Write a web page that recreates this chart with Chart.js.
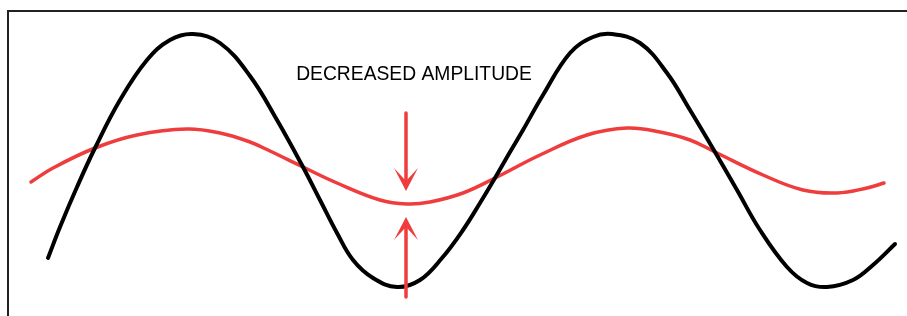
<!DOCTYPE html>
<html lang="en">
<head>
<meta charset="UTF-8" />
<title>Decreased amplitude</title>
<script src="https://cdn.jsdelivr.net/npm/chart.js"></script>
<style>
  html, body { margin: 0; padding: 0; background: #fff; }
  .wrap { position: relative; width: 907px; height: 316px; }
  .frame {
    position: absolute; left: 7px; top: 10px; right: 0; bottom: 0;
    border-left: 2px solid #222; border-top: 2px solid #222;
    pointer-events: none;
  }
</style>
</head>
<body>
<div class="wrap">
  <canvas id="wave"></canvas>
  <div class="frame"></div>
</div>

<script>
  // original wave (black): time vs displacement
  const origX = [48, 60, 77, 95, 120, 147, 170, 193, 220, 250, 277, 303, 320, 337, 353, 373, 397, 420, 442, 463, 480, 495, 510, 523, 543, 570, 593, 612, 640, 667, 690, 715, 737, 760, 787, 807, 827, 853, 873, 895];
  const origY = [-98, -67, -27, 12, 60, 100, 120, 126, 117, 84, 40, -7, -40, -73, -100, -118, -127, -120, -98, -70, -43, -18, 8, 30, 65, 107, 123, 126, 117, 87, 50, 8, -30, -70, -107, -123, -127, -120, -105, -84];

  // damped wave (red)
  const dampX = [31, 53, 95, 137, 187, 220, 250, 270, 303, 337, 380, 407, 430, 463, 495, 540, 587, 627, 660, 690, 715, 763, 803, 837, 867, 884];
  const dampY = [-22, -8, 12, 25, 31, 27, 18, 9, -7, -23, -40, -44, -42, -33, -18, 5, 25, 32, 28, 20, 8, -15, -30, -33, -28, -23];

  // arrows pointing at the red trough: [x, from, to(tip)]
  const arrowDown = [406, 47, -31];
  const arrowUp = [406, -137, -57];
  const label = 'DECREASED AMPLITUDE';
  const labelPos = [414, 80];

  const RED = '#ef3d3d';

  const toPts = (xs, ys) => xs.map((x, i) => ({ x: x, y: ys[i] }));

  const annotate = {
    id: 'annotate',
    afterDatasetsDraw(chart) {
      const ctx = chart.ctx;
      const sx = chart.scales.x, sy = chart.scales.y;

      function arrow(a) {
        const x = sx.getPixelForValue(a[0]);
        const y0 = sy.getPixelForValue(a[1]);
        const y1 = sy.getPixelForValue(a[2]);
        const dir = y1 > y0 ? 1 : -1;
        ctx.save();
        ctx.strokeStyle = RED;
        ctx.fillStyle = RED;
        ctx.lineWidth = 3.5;
        ctx.lineCap = 'round';
        ctx.beginPath();
        ctx.moveTo(x, y0);
        ctx.lineTo(x, y1 - dir * 10);
        ctx.stroke();
        // head
        ctx.beginPath();
        ctx.moveTo(x, y1);
        ctx.lineTo(x - 12, y1 - dir * 23);
        ctx.lineTo(x, y1 - dir * 10);
        ctx.lineTo(x + 12, y1 - dir * 23);
        ctx.closePath();
        ctx.fill();
        ctx.restore();
      }
      arrow(arrowDown);
      arrow(arrowUp);

      ctx.save();
      ctx.fillStyle = '#000';
      ctx.font = '19.3px "Liberation Sans", Arial, sans-serif';
      ctx.textAlign = 'center';
      ctx.textBaseline = 'alphabetic';
      ctx.fillText(label, sx.getPixelForValue(labelPos[0]), sy.getPixelForValue(labelPos[1]));
      ctx.restore();
    }
  };

  new Chart(document.getElementById('wave'), {
    type: 'line',
    data: {
      datasets: [
        {
          label: 'original',
          data: toPts(origX, origY),
          borderColor: '#000',
          borderWidth: 4,
          pointRadius: 0,
          tension: 0.4,
          borderCapStyle: 'round',
          borderJoinStyle: 'round'
        },
        {
          label: 'damped',
          data: toPts(dampX, dampY),
          borderColor: RED,
          borderWidth: 3.5,
          pointRadius: 0,
          tension: 0.4,
          borderCapStyle: 'round',
          borderJoinStyle: 'round'
        }
      ]
    },
    options: {
      responsive: true,
      maintainAspectRatio: false,
      animation: false,
      layout: { padding: 0 },
      plugins: { legend: { display: false }, tooltip: { enabled: false } },
      scales: {
        x: { type: 'linear', min: 0, max: 907, display: false },
        y: { type: 'linear', min: -156, max: 160, display: false }
      }
    },
    plugins: [annotate]
  });
</script>
</body>
</html>
